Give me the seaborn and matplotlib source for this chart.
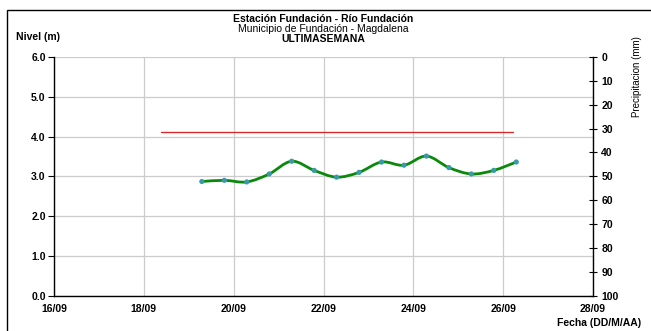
import matplotlib
matplotlib.use("Agg")
import matplotlib.pyplot as plt
import matplotlib.dates as mdates
import pandas as pd
import seaborn as sns
from matplotlib.path import Path
from matplotlib.patches import PathPatch, Rectangle

# Data
level_times = ["2013-09-19 07:00", "2013-09-19 19:00", "2013-09-20 07:00", "2013-09-20 19:00",
               "2013-09-21 07:00", "2013-09-21 19:00", "2013-09-22 07:00", "2013-09-22 19:00",
               "2013-09-23 07:00", "2013-09-23 19:00", "2013-09-24 07:00", "2013-09-24 19:00",
               "2013-09-25 07:00", "2013-09-25 19:00", "2013-09-26 07:00"]
levels = [2.87, 2.90, 2.86, 3.06, 3.38, 3.15, 2.98, 3.10, 3.36, 3.28, 3.51, 3.22, 3.06, 3.15, 3.36]

alert_times = ["2013-09-18 09:00", "2013-09-26 05:00"]
alert_levels = [4.12, 4.12]

x_start, x_end = "2013-09-16", "2013-09-28"
level_ticks = [0, 1, 2, 3, 4, 5, 6]
rain_ticks = [0, 10, 20, 30, 40, 50, 60, 70, 80, 90, 100]

df = pd.DataFrame({"Fecha": pd.to_datetime(level_times), "Nivel": levels})
alert = pd.DataFrame({"Fecha": pd.to_datetime(alert_times), "Nivel": alert_levels})

sns.set_style("white", {"text.color": "black", "xtick.color": "black", "ytick.color": "black"})
plt.rcParams['font.family'] = ['Liberation Sans', 'DejaVu Sans']

fig = plt.figure(figsize=(6.51, 3.31), dpi=100)
ax = fig.add_axes([54 / 651, 1 - 295.7 / 331, 539 / 651, 238.7 / 331])

ax.grid(True, color='#cccccc', linewidth=0.9)
ax.set_axisbelow(True)

sns.lineplot(data=alert, x="Fecha", y="Nivel", color='#d42a2a', linewidth=1.0, ax=ax)

# smoothed line (Excel style bezier through the data points)
xs = mdates.date2num(df["Fecha"])
ys = df["Nivel"].to_numpy()
n = len(xs)
verts = [(xs[0], ys[0])]
codes = [Path.MOVETO]
for i in range(n - 1):
    x0, y0 = (xs[i - 1], ys[i - 1]) if i > 0 else (xs[i], ys[i])
    x3, y3 = (xs[i + 2], ys[i + 2]) if i + 2 < n else (xs[i + 1], ys[i + 1])
    c1 = (xs[i] + (xs[i + 1] - x0) / 6, ys[i] + (ys[i + 1] - y0) / 6)
    c2 = (xs[i + 1] - (x3 - xs[i]) / 6, ys[i + 1] - (y3 - ys[i]) / 6)
    verts += [c1, c2, (xs[i + 1], ys[i + 1])]
    codes += [Path.CURVE4] * 3
ax.add_patch(PathPatch(Path(verts, codes), facecolor='none', edgecolor='#0a8a0a', linewidth=2.0, zorder=3))

sns.scatterplot(data=df, x="Fecha", y="Nivel", color='#3a9aa8', s=14, edgecolor='none', zorder=4, ax=ax)

ax.set_xlim(pd.Timestamp(x_start), pd.Timestamp(x_end))
ax.set_ylim(0, 6)
ax.set_yticks(level_ticks)
ax.yaxis.set_major_formatter(matplotlib.ticker.FormatStrFormatter('%.1f'))
ax.xaxis.set_major_locator(mdates.DayLocator(bymonthday=range(16, 29, 2)))
ax.xaxis.set_major_formatter(mdates.DateFormatter('%d/%m'))
ax.set_xlabel("")
ax.set_ylabel("")
ax.tick_params(axis='both', length=4, width=0.8, direction='out', labelsize=7.5, pad=2,
               colors='black')
for lbl in ax.get_xticklabels() + ax.get_yticklabels():
    lbl.set_fontweight('bold')

for side in ['left', 'bottom']:
    ax.spines[side].set_color('black')
    ax.spines[side].set_linewidth(1.0)
ax.spines['top'].set_visible(False)
ax.spines['right'].set_visible(False)

ax2 = ax.twinx()
ax2.set_ylim(100, 0)
ax2.set_yticks(rain_ticks)
ax2.tick_params(axis='y', length=6, width=0.8, direction='inout', labelsize=7.5, pad=3, colors='black')
for lbl in ax2.get_yticklabels():
    lbl.set_fontweight('bold')
for side in ['left', 'bottom', 'top']:
    ax2.spines[side].set_visible(False)
ax2.spines['right'].set_color('black')
ax2.spines['right'].set_linewidth(1.0)
ax2.grid(False)

title_x = (54 + 593) / 2 / 651
fig.text(title_x, 1 - 19 / 331, "Estación Fundación - Río Fundación",
         ha='center', va='center', fontsize=7.5, fontweight='bold')
fig.text(title_x, 1 - 29 / 331, "Municipio de Fundación - Magdalena", ha='center', va='center', fontsize=7.5)
fig.text(title_x, 1 - 39 / 331, "ULTIMASEMANA", ha='center', va='center', fontsize=7.5, fontweight='bold')
fig.text(16 / 651, 1 - 37 / 331, "Nivel (m)", ha='left', va='center', fontsize=7.5, fontweight='bold')
fig.text(641 / 651, 1 - 323 / 331, "Fecha (DD/M/AA)", ha='right', va='center', fontsize=7.5, fontweight='bold')
fig.text(637 / 651, 1 - 77 / 331, "Precipitacion (mm)", ha='center', va='center', fontsize=7,
         rotation=90, fontstretch='condensed')

fig.patches.append(Rectangle((7 / 651, -0.05), 1.0, 1 - 10 / 331 + 0.05, transform=fig.transFigure,
                             fill=False, edgecolor='black', linewidth=1.0))

fig.savefig("out.png", dpi=100)
